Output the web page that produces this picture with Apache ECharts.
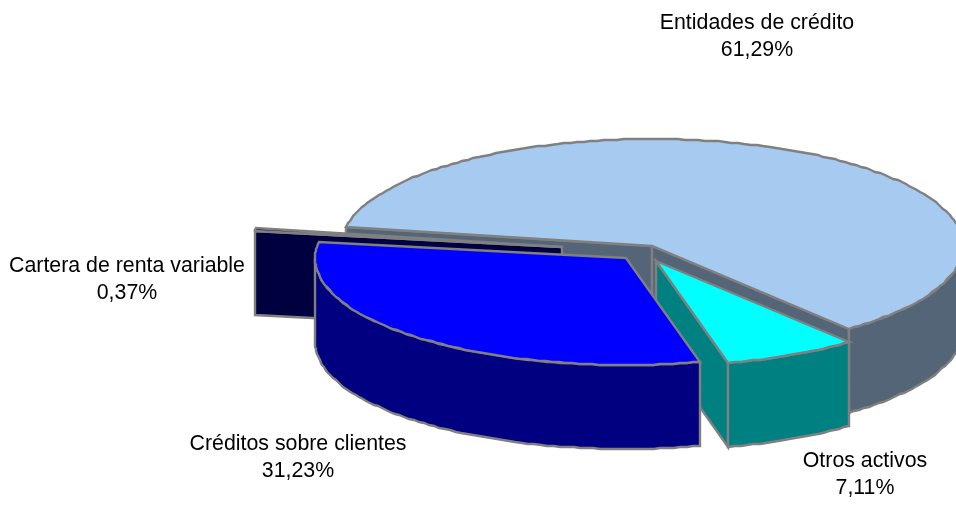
<!DOCTYPE html>
<html>
<head>
<meta charset="utf-8">
<script src="https://cdn.jsdelivr.net/npm/echarts@6/dist/echarts.min.js"></script>
<style>html,body{margin:0;padding:0;background:#fff}#c{width:956px;height:505px}</style>
</head>
<body>
<div id="c"></div>
<script>
// Data, in clockwise slice order
const categories = ['Entidades de crédito', 'Otros activos', 'Créditos sobre clientes', 'Cartera de renta variable'];
const values = [61.29, 7.11, 31.23, 0.37];

// Styles and layout, by slice
const topColors = ['#A6CAF0', '#00FFFF', '#0000FF', '#000040'];
const sideColors = ['#556578', '#008080', '#000080', '#000040'];
const explode = [[0, 0], [4, 15], [-26, 12], [-90, 1]];
const radiusScale = [1, 0.98, 1, 1];
const labelPos = [[757, 37], [865, 475], [298, 458], [127, 280]];
const drawOrder = [0, 3, 1, 2];
const startAngle = 280, cx = 652, cy = 246, rx = 311, ry = 107, depth = 84;

const total = values.reduce((a, b) => a + b, 0);
const starts = [];
values.reduce((acc, v, i) => { starts[i] = acc; return acc + v / total * 360; }, startAngle);

const pt = (ox, oy, deg, s) => {
  const t = deg * Math.PI / 180;
  return [Math.round(ox + s * rx * Math.sin(t)), Math.round(oy - s * ry * Math.cos(t))];
};
const arc = (ox, oy, a, b, s) => {
  const n = Math.max(1, Math.ceil((b - a) / 1.25)), out = [];
  for (let k = 0; k <= n; k++) out.push(pt(ox, oy, a + (b - a) * k / n, s));
  return out;
};
const face = (points, fill) => ({
  type: 'polygon', shape: { points },
  style: { fill, stroke: '#808080', lineWidth: 2.4, lineJoin: 'miter' }, silent: true
});
const wall = (ox, oy, deg, s, fill) => {
  const p = pt(ox, oy, deg, s);
  return face([[ox, oy], p, [p[0], p[1] + depth], [ox, oy + depth]], fill);
};

function renderItem(params, api) {
  const i = api.value(0), v = api.value(1);
  const a0 = starts[i], a1 = a0 + v / total * 360;
  const ox = cx + explode[i][0], oy = cy + explode[i][1], s = radiusScale[i];
  const side = sideColors[i], children = [];
  if (Math.sin(a0 * Math.PI / 180) < 0) children.push(wall(ox, oy, a0, s, side));
  if (Math.sin(a1 * Math.PI / 180) > 0) children.push(wall(ox, oy, a1, s, side));
  for (const shift of [0, 360]) {
    const lo = Math.max(a0, 90 + shift), hi = Math.min(a1, 270 + shift);
    if (hi > lo) {
      const front = arc(ox, oy, lo, hi, s);
      const back = front.map(p => [p[0], p[1] + depth]).reverse();
      children.push(face(front.concat(back), side));
    }
  }
  children.push(face([[ox, oy]].concat(arc(ox, oy, a0, a1, s)), topColors[i]));
  children.push({
    type: 'text', silent: true,
    style: {
      text: categories[i] + '\n' + v.toFixed(2).replace('.', ',') + '%',
      x: labelPos[i][0], y: labelPos[i][1], align: 'center', verticalAlign: 'middle',
      fontFamily: '"Liberation Sans", Arial, sans-serif', fontSize: 21.33, lineHeight: 27, fill: '#000'
    }
  });
  return { type: 'group', children };
}

const chart = echarts.init(document.getElementById('c'), null, { renderer: 'canvas' });
chart.setOption({
  backgroundColor: '#fff',
  animation: false,
  series: [{
    type: 'custom',
    coordinateSystem: 'none',
    renderItem,
    data: drawOrder.map(i => ({ name: categories[i], value: [i, values[i]] }))
  }]
});
</script>
</body>
</html>
